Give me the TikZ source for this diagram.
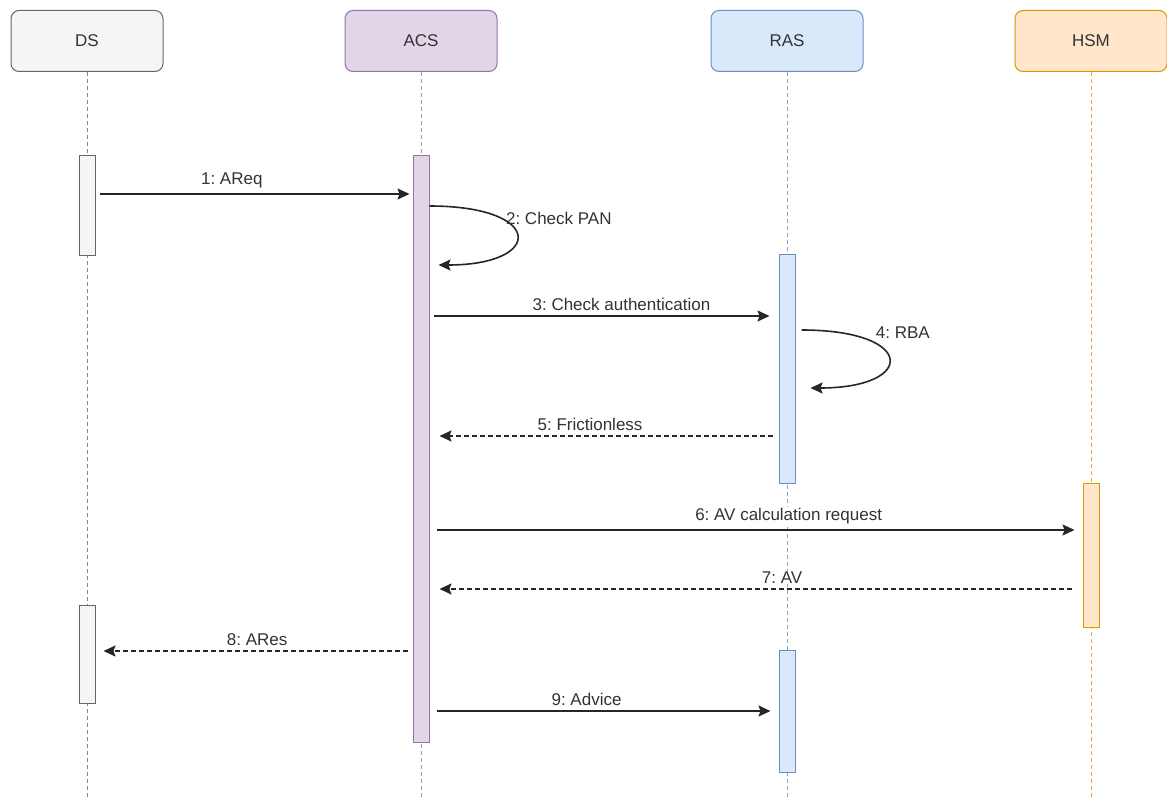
\documentclass[tikz,border=0pt]{standalone}
\usepackage{fontspec}
\setmainfont{Liberation Sans}
\frenchspacing
\usetikzlibrary{arrows.meta,positioning}

\definecolor{dsFill}{HTML}{F5F5F5}
\definecolor{dsLine}{HTML}{666666}
\definecolor{acsFill}{HTML}{E1D5E7}
\definecolor{acsLine}{HTML}{9673A6}
\definecolor{rasFill}{HTML}{DAE8FC}
\definecolor{rasLine}{HTML}{6C8EBF}
\definecolor{hsmFill}{HTML}{FFE6CC}
\definecolor{hsmLine}{HTML}{D79B00}

\begin{document}
\begin{tikzpicture}[x=1pt,y=-1pt,
  every node/.style={font=\fontsize{17}{20}\selectfont,text=black!80},
  header/.style={draw,rounded corners=8pt,minimum width=152pt,minimum height=61pt,line width=1pt},
  activation/.style={draw,minimum width=16pt,inner sep=0pt,line width=1pt,anchor=north},
  lifeline/.style={dash pattern=on 4pt off 3pt,line width=0.8pt},
  call/.style={-{Stealth[length=12pt,width=11pt,inset=2pt]},line width=1.6pt,draw=black!85,shorten <=4pt,shorten >=6pt},
  reply/.style={call,dash pattern=on 5pt off 3pt,shorten <=6pt,shorten >=10pt},
  msg/.style={above=4pt,fill=white,inner sep=1pt}]
\useasboundingbox (0,0) rectangle (1167,800);

% lifeline heads
\node [header,fill=dsFill,draw=dsLine] (DS) at (87,41) {DS};
\node [header,fill=acsFill,draw=acsLine] (ACS) at (421,41) {ACS};
\node [header,fill=rasFill,draw=rasLine] (RAS) at (787,41) {RAS};
\node [header,fill=hsmFill,draw=hsmLine] (HSM) at (1091,41) {HSM};

\coordinate (Bottom) at (0,800);
\foreach \who/\col in {DS/dsLine,ACS/acsLine,RAS/rasLine,HSM/hsmLine}
  \draw [lifeline,draw=\col!80] (\who.south) -- (\who.south |- Bottom);

% activations
\node [activation,fill=dsFill,draw=dsLine,minimum height=100pt] (DSActivation1) at (87,155) {};
\node [activation,fill=dsFill,draw=dsLine,minimum height=98pt] (DSActivation2) at (87,605) {};
\node [activation,fill=acsFill,draw=acsLine,minimum height=587pt] (ACSActivation) at (421,155) {};
\node [activation,fill=rasFill,draw=rasLine,minimum height=229pt] (RASActivation1) at (787,254) {};
\node [activation,fill=rasFill,draw=rasLine,minimum height=122pt] (RASActivation2) at (787,650) {};
\node [activation,fill=hsmFill,draw=hsmLine,minimum height=144pt] (HSMActivation) at (1091,483) {};

% message levels
\coordinate (Msg1) at (0,194);
\coordinate (Loop2Start) at (0,206);
\coordinate (Loop2End) at (0,265);
\coordinate (Msg3) at (0,316);
\coordinate (Loop4Start) at (0,330);
\coordinate (Loop4End) at (0,388);
\coordinate (Msg5) at (0,436);
\coordinate (Msg6) at (0,530);
\coordinate (Msg7) at (0,589);
\coordinate (Msg8) at (0,651);
\coordinate (Msg9) at (0,711);

\draw [call,shorten >=3pt] (DSActivation1.east |- Msg1) -- node [msg,pos=0.43] {1: AReq} (ACSActivation.west |- Msg1);
\draw [call,shorten <=0pt,shorten >=9pt] (ACSActivation.east |- Loop2Start) .. controls +(115,0) and +(115,0) .. (ACSActivation.east |- Loop2End)
  node [pos=0.3,anchor=west] {2: Check PAN};
\draw [call,shorten >=9pt] (ACSActivation.east |- Msg3) -- node [msg,pos=0.55] {3: Check authentication} (RASActivation1.west |- Msg3);
\draw [call,shorten <=6pt,shorten >=15pt] (RASActivation1.east |- Loop4Start) .. controls +(121,0) and +(121,0) .. (RASActivation1.east |- Loop4End)
  node [pos=0.3,anchor=south west] {4: RBA};
\draw [reply] (RASActivation1.west |- Msg5) -- node [msg,pos=0.54] {5: Frictionless} (ACSActivation.east |- Msg5);
\draw [call,shorten <=7pt,shorten >=8pt] (ACSActivation.east |- Msg6) -- node [msg,pos=0.55] {6: AV calculation request} (HSMActivation.west |- Msg6);
\draw [reply,shorten <=11pt] (HSMActivation.west |- Msg7) -- node [msg,pos=0.46] {7: AV} (ACSActivation.east |- Msg7);
\draw [reply,shorten <=5pt,shorten >=8pt] (ACSActivation.west |- Msg8) -- node [msg,pos=0.49] {8: ARes} (DSActivation2.east |- Msg8);
\draw [call,shorten <=7pt,shorten >=8pt] (ACSActivation.east |- Msg9) -- node [msg,pos=0.45] {9: Advice} (RASActivation2.west |- Msg9);
\end{tikzpicture}
\end{document}
